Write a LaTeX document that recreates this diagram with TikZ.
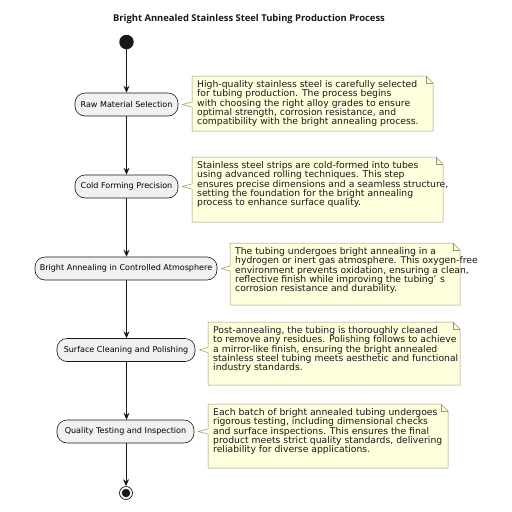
\documentclass[tikz,border=0pt]{standalone}
\usepackage{fontspec}
\setmainfont{DejaVu Sans}
\newfontfamily\titlefont{Open Sans}
\usetikzlibrary{arrows.meta,calc}
\definecolor{notefill}{RGB}{254,255,221}
\definecolor{noteborder}{RGB}{150,150,120}
\definecolor{boxfill}{RGB}{241,241,241}
\definecolor{ink}{RGB}{24,24,24}
\tikzset{
  actbox/.style={draw=ink, fill=boxfill, rounded corners=10pt, line width=0.6pt,
    minimum height=23pt, inner sep=0pt, font=\fontsize{8.05}{9}\selectfont},
  notetext/.style={anchor=north west, inner xsep=5pt, inner ysep=0pt, align=left,
    font=\fontsize{9.25}{9.2}\selectfont, text=ink},
  noteline/.style={draw=noteborder, fill=notefill, line width=0.5pt},
  flow/.style={draw=ink, line width=0.6pt, -{Stealth[length=7pt,width=6pt,inset=2.5pt]}},
}
\newcommand\notecallout[6]{% #1 name, #2 box, #3 x1, #4 y1, #5 x2, #6 y2
  \coordinate (#1nw) at (#3,#4);
  \coordinate (#1se) at (#5,#6);
  \draw[noteline] (#1nw) -- ($(#5,#4)+(-7pt,0)$) -- ($(#5,#4)+(0,-7pt)$) -- (#1se) -- (#3,#6)
     -- ($(#1nw |- #2.east)+(0,-2.6pt)$) -- ($(#2.east)+(4pt,0)$) -- ($(#1nw |- #2.east)+(0,2.6pt)$) -- cycle;
  \draw[noteline, fill=none] ($(#5,#4)+(-7pt,0)$) |- ($(#5,#4)+(0,-7pt)$);
}
\begin{document}
\begin{tikzpicture}[x=1pt,y=-1pt]
\useasboundingbox (0,0) rectangle (512,512);
\node[font=\titlefont\fontsize{9.4}{11}\selectfont\bfseries, text=ink] (title) at (249,19) {Bright Annealed Stainless Steel Tubing Production Process};
\node[circle, fill=ink, minimum size=14.5pt, inner sep=0pt] (start) at (126.5,42) {};
\node[actbox, minimum width=103pt] (b1) at (126.5,104.5) {Raw Material Selection};
\node[actbox, minimum width=103pt] (b2) at (126.5,186.5) {Cold Forming Precision};
\node[actbox, minimum width=182pt] (b3) at (126,268.5) {Bright Annealing in Controlled Atmosphere};
\node[actbox, minimum width=138pt] (b4) at (126,350) {Surface Cleaning and Polishing};
\node[actbox, minimum width=137pt] (b5) at (125.5,431.5) {Quality Testing and Inspection};
\node[circle, draw=ink, line width=0.7pt, minimum size=13pt, inner sep=0pt] (end) at (126,493) {};
\node[circle, fill=ink, minimum size=8.5pt, inner sep=0pt] (endin) at (end.center) {};
\draw[flow] (start) -- (b1);
\draw[flow] (b1) -- (b2);
\draw[flow] (b2.south) -- (b3.north -| b2.south);
\draw[flow] (b3.south -| b2.south) -- (b4.north -| b2.south);
\draw[flow] (b4.south -| b2.south) -- (b5.north -| b2.south);
\draw[flow] (b5.south -| end) -- (end);
\notecallout{n1}{b1}{192}{76}{433}{131}
\node[notetext] (t1) at ($(n1nw)+(0,-4.5pt)$) {High-quality stainless steel is carefully selected\\for tubing production. The process begins\\with choosing the right alloy grades to ensure\\optimal strength, corrosion resistance, and\\compatibility with the bright annealing process.};
\notecallout{n2}{b2}{192}{157}{443}{222}
\node[notetext] (t2) at ($(n2nw)+(0,-4.5pt)$) {Stainless steel strips are cold-formed into tubes\\using advanced rolling techniques. This step\\ensures precise dimensions and a seamless structure,\\setting the foundation for the bright annealing\\process to enhance surface quality.};
\notecallout{n3}{b3}{230}{243}{460}{305}
\node[notetext] (t3) at ($(n3nw)+(0,-4.5pt)$) {The tubing undergoes bright annealing in a\\hydrogen or inert gas atmosphere. This oxygen-free\\environment prevents oxidation, ensuring a clean,\\reflective finish while improving the tubing’\hspace{3.5pt}s\\corrosion resistance and durability.};
\notecallout{n4}{b4}{208}{322}{460}{385}
\node[notetext] (t4) at ($(n4nw)+(0,-4.5pt)$) {Post-annealing, the tubing is thoroughly cleaned\\to remove any residues. Polishing follows to achieve\\a mirror-like finish, ensuring the bright annealed\\stainless steel tubing meets aesthetic and functional\\industry standards.};
\notecallout{n5}{b5}{208}{404}{448}{468}
\node[notetext] (t5) at ($(n5nw)+(0,-4.5pt)$) {Each batch of bright annealed tubing undergoes\\rigorous testing, including dimensional checks\\and surface inspections. This ensures the final\\product meets strict quality standards, delivering\\reliability for diverse applications.};
\end{tikzpicture}
\end{document}
